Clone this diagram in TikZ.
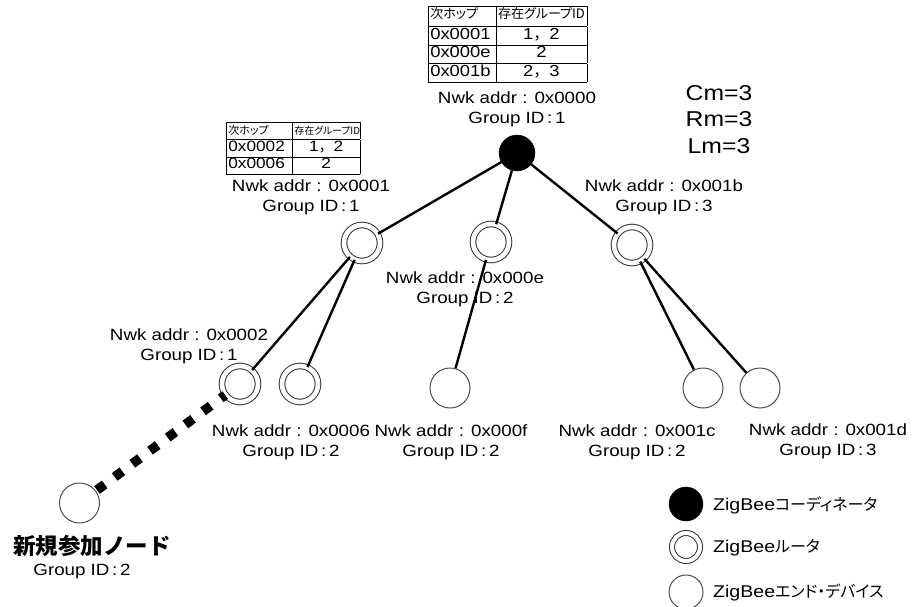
\documentclass[tikz,border=0pt]{standalone}
\usepackage{fontspec}
\usepackage{array}
\setmainfont[FakeStretch=1.15]{Liberation Sans}
\newfontfamily\jp{Noto Sans CJK JP}
\newfontfamily\jpp[RawFeature=+palt]{Noto Sans CJK JP}
\usetikzlibrary{positioning}

\newcommand{\nwk}[2]{Nwk addr : #1\\Group ID\,:\,#2}
\newcommand{\cm}{{\jp ，}}

\begin{document}
\begin{tikzpicture}[x=1pt,y=-1pt,
    coord/.style={circle,draw,fill=black,minimum size=36pt,inner sep=0pt},
    router/.style={circle,draw=black!80,line width=1pt,double,double distance=4.6pt,minimum size=36pt,inner sep=0pt},
    enddev/.style={circle,draw=black!70,line width=1pt,minimum size=40pt,inner sep=0pt},
    link/.style={line width=2.4pt},
    joinlink/.style={line width=9.5pt,dash pattern=on 9.5pt off 12.5pt,dash phase=4pt},
    lbl/.style={align=center,font=\fontsize{16.3}{20}\selectfont,inner sep=0pt},
    big/.style={font=\fontsize{21.5}{26}\selectfont,inner sep=0pt},
    legend/.style={anchor=west,font=\fontsize{17}{20}\selectfont,inner sep=0pt}]
  \useasboundingbox (0,0) rectangle (912,607);

  % nodes of the tree
  \node[coord] (zc) at (517,153) {};
  \node[router] (r1) at (362,243) {};
  \node[router] (re) at (491,242) {};
  \node[router] (rb) at (632,245) {};
  \node[router] (r2) at (240,384) {};
  \node[router] (r6) at (300,384) {};
  \node[enddev] (ef) at (450,388) {};
  \node[enddev] (ec) at (703,388) {};
  \node[enddev] (ed) at (760,388) {};
  \node[enddev] (nw) at (79.5,503) {};

  % links
  \draw[link] (zc) -- (r1);
  \draw[link] (zc) -- (re);
  \draw[link] (zc) -- (rb);
  \draw[link] (r1) -- (r2);
  \draw[link] (r1) -- (r6);
  \draw[link] (re) -- (ef);
  \draw[link] (rb) -- (ec);
  \draw[link] (rb) -- (ed);
  \draw[joinlink] (r2) -- (nw);

  % routing tables
  \node[inner sep=0pt,font=\fontsize{16}{18}\selectfont] (tzc) at (507.5,44) {%
    \setlength{\tabcolsep}{2pt}%
    \begin{tabular}{|p{63.5pt}|>{\centering\arraybackslash}p{86.5pt}|}\hline
      {\jpp\fontsize{13}{14}\selectfont 次ホップ} & {\jpp\fontsize{13}{14}\selectfont 存在グループID}\\[2pt]\hline
      0x0001 & 1\cm 2\\\hline
      0x000e & 2\\\hline
      0x001b & 2\cm 3\\\hline
    \end{tabular}};
  \node[inner sep=0pt,font=\fontsize{15}{17}\selectfont] (tr1) at (293,148) {%
    \setlength{\tabcolsep}{2pt}%
    \begin{tabular}{|p{62pt}|>{\centering\arraybackslash}p{63pt}|}\hline
      {\jpp\fontsize{11}{12}\selectfont 次ホップ} & {\jpp\fontsize{9.8}{12}\selectfont 存在グループID}\\\hline
      0x0002 & 1\cm 2\\\hline
      0x0006 & 2\\\hline
    \end{tabular}};

  % labels
  \node[lbl] (lzc) at (517,109) {\nwk{0x0000}{1}};
  \node[lbl] (lr1) at (311,197) {\nwk{0x0001}{1}};
  \node[lbl] (lrb) at (664,197) {\nwk{0x001b}{3}};
  \node[lbl] (lre) at (465,289) {\nwk{0x000e}{2}};
  \node[lbl] (lr2) at (189,346) {\nwk{0x0002}{1}};
  \node[lbl] (lr6) at (291,442) {\nwk{0x0006}{2}};
  \node[lbl] (lef) at (451,442) {\nwk{0x000f}{2}};
  \node[lbl] (lec) at (637,442) {\nwk{0x001c}{2}};
  \node[lbl] (led) at (828,441) {\nwk{0x001d}{3}};
  \node[inner sep=0pt,font=\jp\bfseries\fontsize{22.5}{26}\selectfont] (lnw) at (92,546) {新規参加ノード};
  \node[lbl] (lng) at (82,571) {Group ID\,:\,2};

  \node[big] (cm) at (719,93) {Cm=3};
  \node[big] (rm) at (719,119) {Rm=3};
  \node[big] (lm) at (719,146) {Lm=3};

  % legend
  \node[coord,minimum size=34pt] (kzc) at (686,504) {};
  \node[router,minimum size=28pt,double distance=4pt] (kr) at (686,547) {};
  \node[enddev,minimum size=34pt] (ke) at (686,592) {};
  \node[legend] (tzck) at (713,505) {ZigBee{\jpp\fontsize{16}{18}\selectfont コーディネータ}};
  \node[legend] (trk) at (713,548) {ZigBee{\jpp\fontsize{16}{18}\selectfont ルータ}};
  \node[legend] (tek) at (713,592) {ZigBee{\jpp\fontsize{16}{18}\selectfont エンド・デバイス}};
\end{tikzpicture}
\end{document}
